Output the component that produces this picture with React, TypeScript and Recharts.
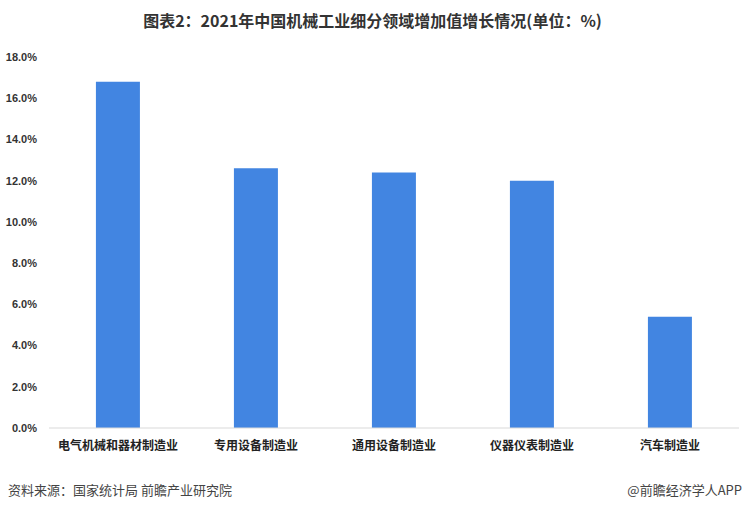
import React from "react";
import { BarChart, Bar, XAxis, YAxis } from "recharts";

const categories = ["电气机械和器材制造业", "专用设备制造业", "通用设备制造业", "仪器仪表制造业", "汽车制造业"];
const growth = [16.8, 12.6, 12.4, 12.0, 5.4];
const yTicks = [0, 2, 4, 6, 8, 10, 12, 14, 16, 18];

const data = categories.map((name, i) => ({ name, value: growth[i] }));

const cjk = '"Noto Sans CJK SC", "Microsoft YaHei", sans-serif';

export default function App() {
  return (
    <div style={{ position: "absolute", left: 0, top: 0, width: 745, height: 507, background: "#fff", overflow: "hidden" }}>
      <div
        style={{
          position: "absolute",
          top: 8,
          left: 0,
          width: 745,
          textAlign: "center",
          fontFamily: cjk,
          fontWeight: 700,
          fontSize: 16,
          color: "#333",
          lineHeight: "24px",
        }}
      >
        图表2：2021年中国机械工业细分领域增加值增长情况(单位：%)
      </div>
      <BarChart
        width={745}
        height={507}
        data={data}
        margin={{ top: 57, right: 6, bottom: 49, left: 0 }}
        barCategoryGap="34%"
      >
        <XAxis
          dataKey="name"
          height={30}
          axisLine={{ stroke: "#d9d9d9" }}
          tickLine={false}
          tickSize={0}
          tickMargin={13}
          interval={0}
          tick={{ fill: "#222", fontSize: 12, fontWeight: 700, fontFamily: cjk }}
        />
        <YAxis
          width={49}
          domain={[0, 18]}
          ticks={yTicks}
          interval={0}
          axisLine={false}
          tickLine={false}
          tickSize={0}
          tickMargin={12}
          tickFormatter={(v: number) => v.toFixed(1) + "%"}
          tick={{ fill: "#333", fontSize: 11, fontWeight: 700, fontFamily: '"Liberation Sans", Arial, sans-serif' }}
        />
        <Bar dataKey="value" fill="#4285e1" isAnimationActive={false} />
      </BarChart>
      <div
        style={{
          position: "absolute",
          left: 8,
          top: 481,
          fontFamily: cjk,
          fontSize: 13,
          color: "#444",
          lineHeight: "18px",
        }}
      >
        资料来源：国家统计局 前瞻产业研究院
      </div>
      <div
        style={{
          position: "absolute",
          right: 3,
          top: 481,
          fontFamily: cjk,
          fontSize: 13,
          color: "#444",
          lineHeight: "18px",
        }}
      >
        @前瞻经济学人APP
      </div>
    </div>
  );
}
